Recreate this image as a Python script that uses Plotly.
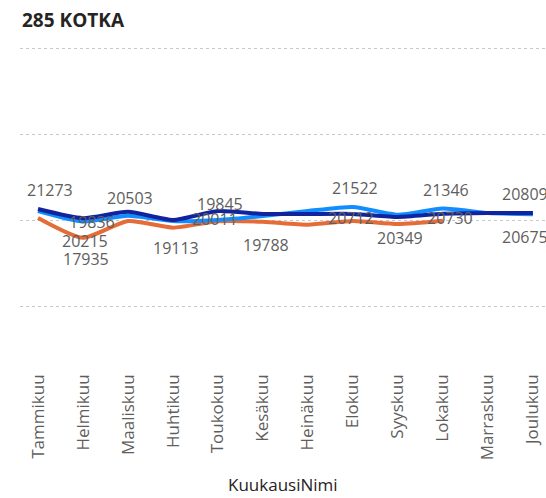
import plotly.graph_objects as go

months = ["Tammikuu", "Helmikuu", "Maaliskuu", "Huhtikuu", "Toukokuu", "Kesäkuu",
          "Heinäkuu", "Elokuu", "Syyskuu", "Lokakuu", "Marraskuu", "Joulukuu"]

values_navy = [21273, 20215, 20950, 20000, 21047, 20700, 20700, 20712, 20349, 20730, 20814, 20809]
values_blue = [21047, 19836, 20503, 19884, 20011, 20465, 21047, 21522, 20616, 21346, 20814, 20675]
values_orange = [20233, 17935, 19884, 19113, 19845, 19788, 19453, 19884, 19535, 19919, None, None]

# which points carry a data label (month indices)
labelled_navy = [0, 1, 7, 8, 9, 11]
labelled_blue = [1, 2, 4, 7, 9, 11]
labelled_orange = [1, 3, 4, 5]

# label placement offsets in pixels (xshift, yshift)
offs_navy = {0: (12, 19), 1: (2, -23), 7: (-2, -4), 8: (2, -21), 9: (7, -4), 11: (-8, 19)}
offs_blue = {1: (9, -1), 2: (2, 18), 4: (-3, 1), 7: (2, 19), 9: (3, 18), 11: (-8, -23)}
offs_orange = {1: (3, -21), 3: (3, -20), 4: (2, 17), 5: (3, -23)}

NAVY = "#12239E"
BLUE = "#118DFF"
ORANGE = "#E66C37"
FONT = "Open Sans"

fig = go.Figure()
for name, vals, col in [("2024", values_orange, ORANGE),
                        ("2023", values_blue, BLUE),
                        ("2022", values_navy, NAVY)]:
    fig.add_trace(go.Scatter(x=months, y=vals, mode="lines", name=name,
                             line=dict(color=col, width=4, shape="spline", smoothing=0.6),
                             connectgaps=False, showlegend=False))

annotations = []
for vals, idxs, offs in [(values_navy, labelled_navy, offs_navy),
                         (values_blue, labelled_blue, offs_blue),
                         (values_orange, labelled_orange, offs_orange)]:
    for i in idxs:
        dx, dy = offs[i]
        annotations.append(dict(x=months[i], y=vals[i], xref="x", yref="y",
                                text=str(vals[i]), showarrow=False,
                                xanchor="center", yanchor="middle",
                                xshift=dx, yshift=dy,
                                font=dict(family=FONT, size=16, color="#605E5C")))

annotations.append(dict(text="KuukausiNimi", x=0.5, y=-0.348, xref="paper", yref="paper",
                        showarrow=False, xanchor="center", yanchor="middle",
                        font=dict(family=FONT, size=17, color="#252423")))

fig.update_layout(
    template="none",
    width=546, height=498,
    margin=dict(l=20, r=0, t=40, b=128, autoexpand=False),
    paper_bgcolor="white", plot_bgcolor="white",
    title=dict(text="<b>285 KOTKA</b>", x=22 / 546, xanchor="left", xref="container",
               y=1 - 20 / 498, yanchor="middle", yref="container",
               font=dict(family=FONT, size=19, color="#252423")),
    xaxis=dict(type="category", range=[-0.4, 11.29], showgrid=False, zeroline=False,
               showline=False, ticks="", tickangle=-90, automargin=False,
               tickfont=dict(family=FONT, size=17, color="#605E5C")),
    yaxis=dict(range=[2558, 40930], showgrid=True, gridcolor="#C8C8C8", griddash="dot",
               gridwidth=1, tick0=0, dtick=10000, showticklabels=False, zeroline=False,
               showline=False, ticks="", automargin=False),
    annotations=annotations,
)

fig.write_html("out.html", config={"displayModeBar": False},
               post_script="document.body.style.margin='0';")
